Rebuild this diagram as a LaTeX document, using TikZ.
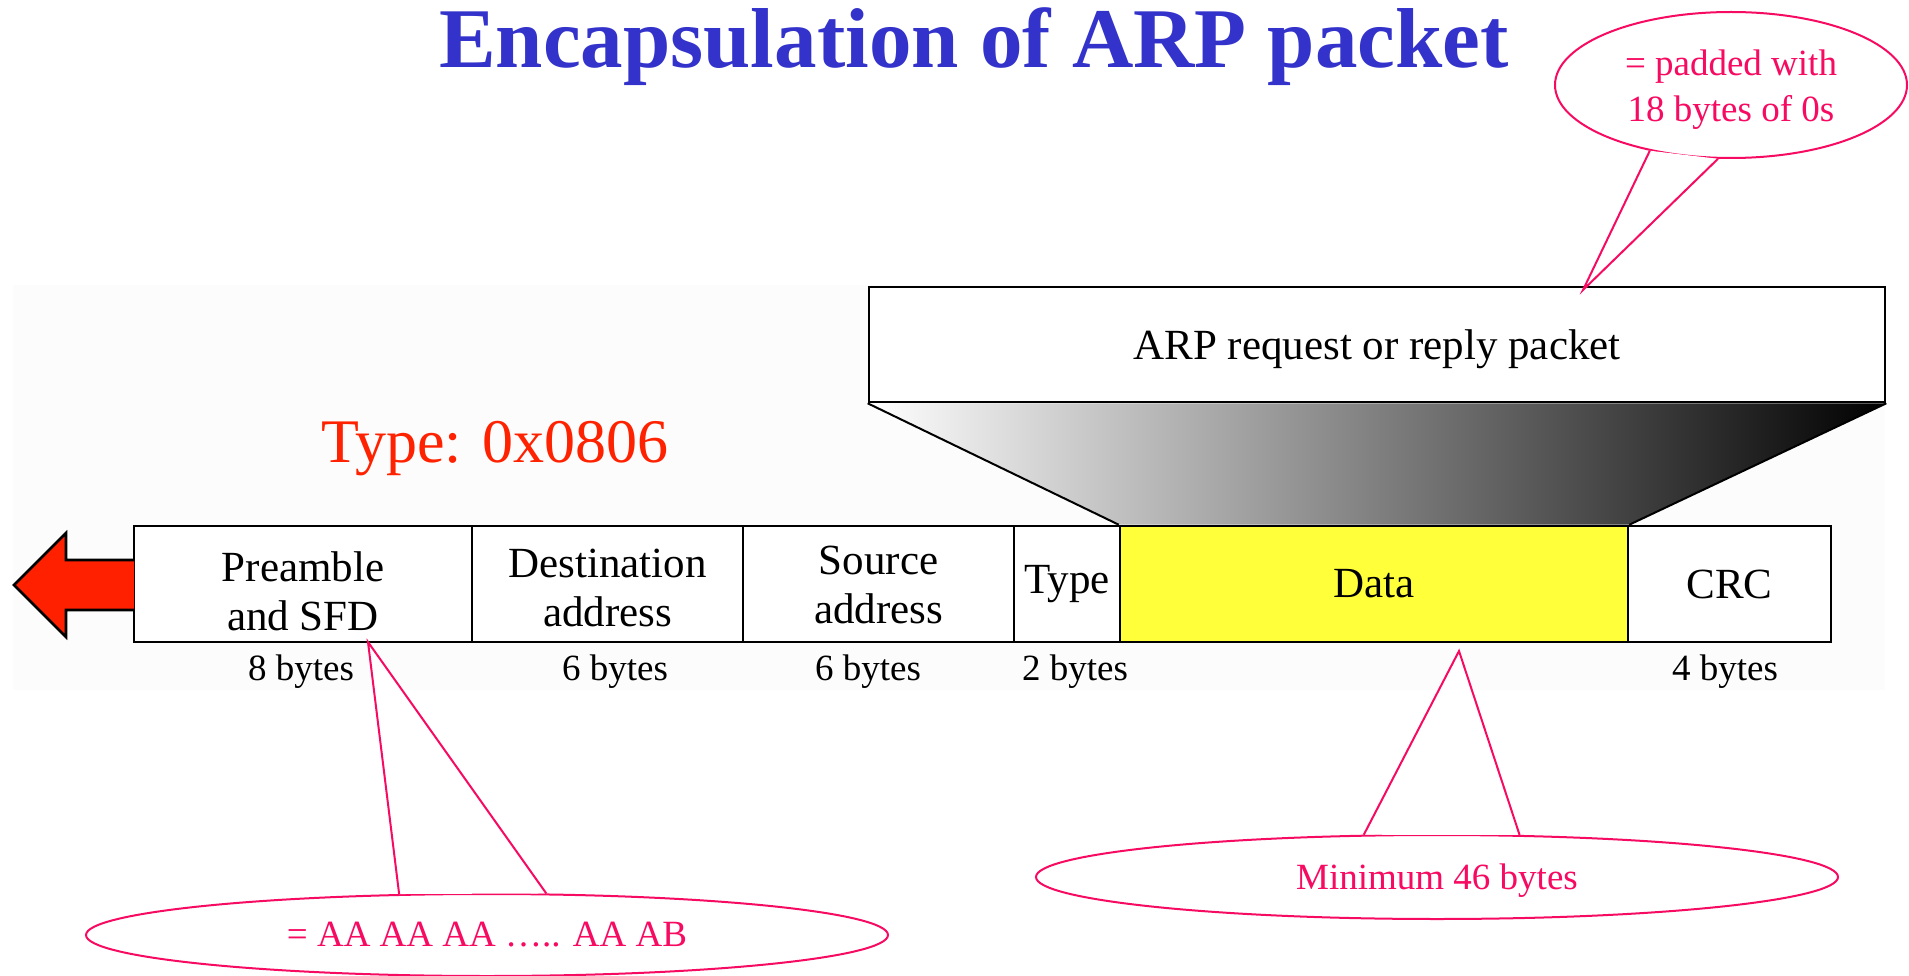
\documentclass[tikz,border=0pt]{standalone}
\usepackage{fontspec}
\setmainfont{Liberation Serif}
\usetikzlibrary{shapes.geometric,backgrounds}

\definecolor{titleblue}{HTML}{3333CC}
\definecolor{typered}{HTML}{FF2200}
\definecolor{arrowred}{HTML}{FF2000}
\definecolor{callpink}{HTML}{F70A62}
\definecolor{datayellow}{HTML}{FFFF3A}
\definecolor{bandgray}{HTML}{FCFCFC}

\tikzset{
  field/.style={draw=black, line width=2.6pt, fill=white, minimum height=116pt,
    inner sep=0pt, align=center, font=\fontsize{43}{49}\selectfont},
  bytes/.style={anchor=base, font=\fontsize{37}{40}\selectfont},
  bubble/.style={ellipse, draw=callpink, line width=2pt, fill=white, inner sep=1pt,
    text=callpink, align=center, font=\fontsize{37}{46}\selectfont},
  pointer/.style={draw=callpink, line width=2pt, line join=miter},
}

\begin{document}
\begin{tikzpicture}[x=1pt, y=-1pt]
\useasboundingbox (0,0) rectangle (1909,976);

% title and protocol type
\node[anchor=base, text=titleblue, font=\fontsize{85}{90}\selectfont\bfseries] (title) at (974,68) {Encapsulation of ARP packet};
\node[anchor=base, text=typered, font=\fontsize{62}{66}\selectfont] (typelbl) at (495,462) {Type: 0x0806};

% the ARP packet carried as data
\node[field, minimum width=1016pt, minimum height=115pt, text height=29.4pt, text depth=0pt] (arp) at (1377,344.5) {ARP request or reply packet};

% Ethernet frame fields
\node[field, minimum width=338pt, text height=92pt, text depth=0pt] (pre) at (303,584) {Preamble\\and SFD};
\node[field, minimum width=271pt, text height=84pt, text depth=0pt] (dst) at (607.5,584) {Destination\\address};
\node[field, minimum width=271pt, text height=78pt, text depth=0pt] (src) at (878.5,584) {Source\\address};
\node[field, minimum width=106pt] (typ) at (1067,584) {Type};
\node[field, minimum width=508pt, fill=datayellow] (dat) at (1374,584) {Data};
\node[field, minimum width=203pt] (crc) at (1729.5,584) {CRC};

% field sizes
\node[bytes] (bpre) at (301,680) {8 bytes};
\node[bytes] (bdst) at (615,680) {6 bytes};
\node[bytes] (bsrc) at (868,680) {6 bytes};
\node[bytes] (btyp) at (1075,680) {2 bytes};
\node[bytes] (bcrc) at (1725,680) {4 bytes};

% light panel and the shaded funnel behind the frame
\begin{pgfonlayer}{background}
  \fill[bandgray] (13,285) rectangle (1885,690);
  \shade[left color=white, right color=black]
    (arp.south west) -- (arp.south east) -- (dat.north east) -- (dat.north west) -- cycle;
  \draw[line width=2pt] (arp.south west) -- (dat.north west);
  \draw[line width=2pt] (arp.south east) -- (dat.north east);
\end{pgfonlayer}

% direction of transmission
\filldraw[fill=arrowred, draw=black, line width=2.6pt, line join=miter]
  (134,560) -- (66,560) -- (66,533) -- (14,585) -- (66,637) -- (66,610) -- (134,610);

% callout: padding
\node[bubble, minimum width=352pt, minimum height=146pt, text height=74pt, text depth=0pt] (cpad) at (1731,85) {= padded with\\18 bytes of 0s};
\coordinate (tpad) at (1583,290);
\fill[white] (cpad.219.9) -- (tpad) -- (cpad.260) -- cycle;
\draw[pointer] (cpad.219.9) -- (tpad) -- (cpad.260);

% callout: preamble pattern
\node[bubble, minimum width=802pt, minimum height=82pt] (caa) at (487,935) {= AA AA AA ….. AA AB};
\coordinate (taa) at (368,642);
\fill[white] (caa.155.7) -- (taa) -- (caa.35) -- cycle;
\draw[pointer] (caa.155.7) -- (taa) -- (caa.35);

% callout: minimum data size
\node[bubble, minimum width=802pt, minimum height=84pt, text depth=0pt] (cmin) at (1437,877) {Minimum 46 bytes};
\coordinate (tmin) at (1459,651);
\fill[white] (cmin.150.1) -- (tmin) -- (cmin.27.7) -- cycle;
\draw[pointer] (cmin.150.1) -- (tmin) -- (cmin.27.7);
\end{tikzpicture}
\end{document}
